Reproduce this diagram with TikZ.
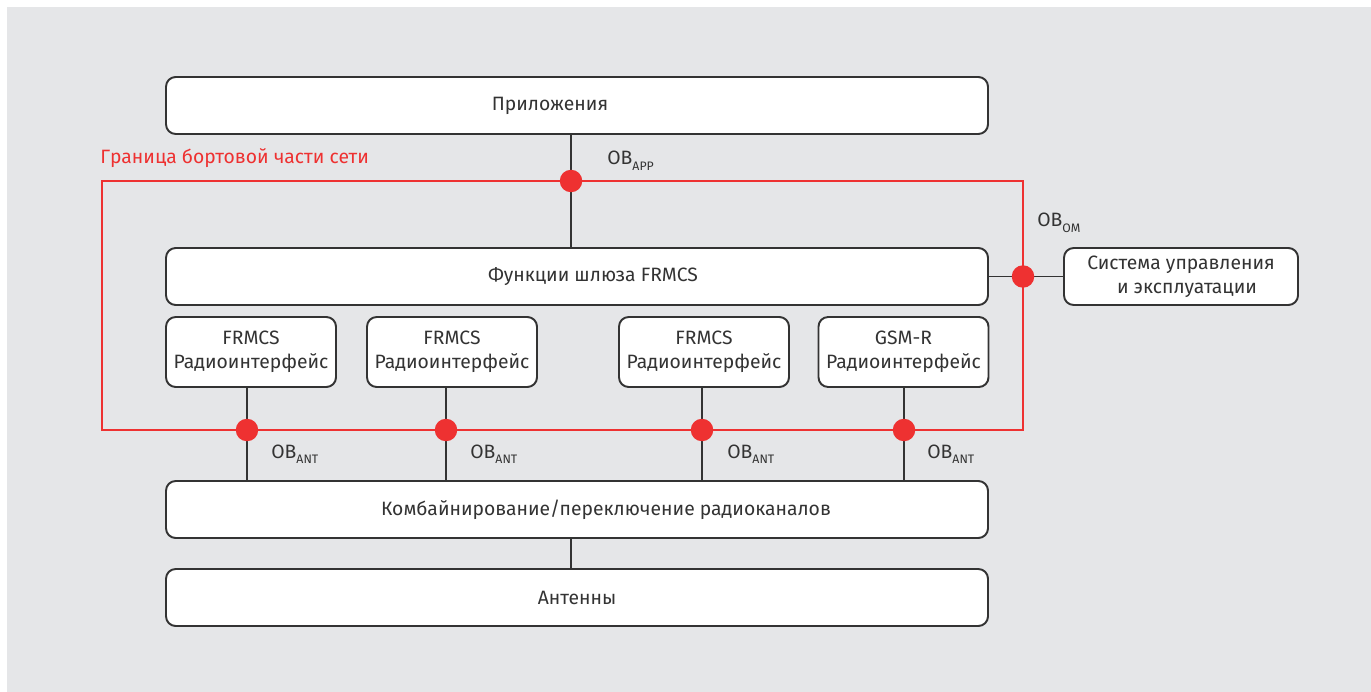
\documentclass[tikz,border=0pt]{standalone}
\usepackage{fontspec}
\setmainfont{Fira Sans}
\definecolor{bggray}{HTML}{E5E6E8}
\definecolor{txt}{HTML}{333333}
\definecolor{bred}{HTML}{EE3131}
\tikzset{
  box/.style={draw=txt, line width=1.1pt, fill=white, rounded corners=5.5pt, inner sep=0pt, align=center, text=txt, font=\fontsize{11}{13.5}\selectfont},
  wide/.style={box, minimum width=822*0.02cm, minimum height=57*0.02cm},
  radio/.style={box, minimum width=170*0.02cm, minimum height=70*0.02cm},
  boxtext/.style={text=txt, font=\fontsize{11}{13.5}\selectfont, inner sep=0pt, align=center},
  conn/.style={draw=txt, line width=1.1pt},
  redline/.style={draw=bred, line width=0.85pt},
  rdot/.style={circle, fill=bred, inner sep=0pt, minimum size=0.45cm},
  lbl/.style={text=txt, font=\fontsize{11}{13.5}\selectfont, inner sep=0pt},
}
\newcommand{\obl}[1]{OB\raisebox{-0.5ex}{\fontsize{7}{8}\selectfont #1}}
\begin{document}
\begin{tikzpicture}[x=0.02cm, y=-0.02cm]
\useasboundingbox (0,0) rectangle (1371,692);
\fill[bggray] (7,7) rectangle (1371,692);

% boxes
\node[wide, label={[boxtext, xshift=-27*0.02cm]center:Приложения}] (app) at (577,105.5) {};
\node[wide, label={[boxtext, xshift=16*0.02cm]center:Функции шлюза FRMCS}] (gw) at (577,276.5) {};
\node[box, minimum width=234*0.02cm, minimum height=57*0.02cm] (om) at (1181,276.5) {Система управления\\ \hspace*{6.8pt}и эксплуатации};
\node[radio] (r1) at (251,352) {FRMCS\\Радиоинтерфейс};
\node[radio] (r2) at (452,352) {FRMCS\\Радиоинтерфейс};
\node[radio] (r3) at (704,352) {FRMCS\\Радиоинтерфейс};
\node[radio] (r4) at (903.5,352) {GSM-R\\Радиоинтерфейс};
\node[wide, label={[boxtext, xshift=29*0.02cm]center:Комбайнирование/переключение радиоканалов}] (comb) at (577,509.5) {};
\node[wide] (ant) at (577,597.5) {Антенны};

% x positions of connectors
\coordinate (xm) at (571,0);
\coordinate (x1) at (247,0);
\coordinate (x2) at (446,0);
\coordinate (x3) at (702,0);
\coordinate (x4) at (904,0);

% boundary
\coordinate (bnw) at (102,181);
\coordinate (bse) at (1023,430);
\draw[redline] (bnw) rectangle (bse);
\node[anchor=base west, inner sep=0pt, text=bred, font=\fontsize{11}{13.5}\selectfont] (blbl) at (100,164) {Граница бортовой части сети};

% connectors
\draw[conn] (app.south -| xm) -- (gw.north -| xm);
\draw[conn] (gw.east) -- (om.west);
\draw[conn] (r1.south -| x1) -- (comb.north -| x1);
\draw[conn] (r2.south -| x2) -- (comb.north -| x2);
\draw[conn] (r3.south -| x3) -- (comb.north -| x3);
\draw[conn] (r4.south -| x4) -- (comb.north -| x4);
\draw[conn] (comb.south -| xm) -- (ant.north -| xm);

% red dots
\node[rdot] (dapp) at (bnw -| xm) {};
\node[rdot] (dom) at (gw.east -| bse) {};
\node[rdot] (d1) at (bse -| x1) {};
\node[rdot] (d2) at (bse -| x2) {};
\node[rdot] (d3) at (bse -| x3) {};
\node[rdot] (d4) at (bse -| x4) {};

% labels
\node[lbl, anchor=base west] (lapp) at (607,165) {\obl{APP}};
\node[lbl, anchor=base west] (lom) at (1037,227) {\obl{OM}};
\node[lbl, anchor=base west] (l1) at (271,458) {\obl{ANT}};
\node[lbl, anchor=base west] (l2) at (470,458) {\obl{ANT}};
\node[lbl, anchor=base west] (l3) at (727,458) {\obl{ANT}};
\node[lbl, anchor=base west] (l4) at (927,458) {\obl{ANT}};
\end{tikzpicture}
\end{document}
